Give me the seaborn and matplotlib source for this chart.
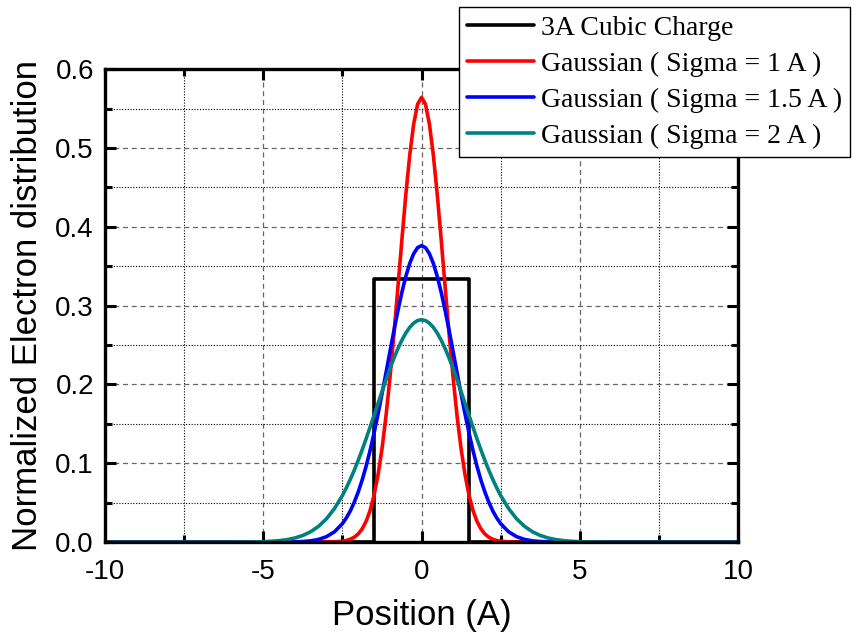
import matplotlib
matplotlib.use("Agg")
import matplotlib.pyplot as plt
import seaborn as sns
from matplotlib.ticker import MultipleLocator, FormatStrFormatter

# ---- data ----
half_x = [0, 0.125, 0.25, 0.375, 0.5, 0.625, 0.75, 0.875, 1.0, 1.125, 1.25, 1.375,
          1.5, 1.625, 1.75, 1.875, 2.0, 2.125, 2.25, 2.375, 2.5, 2.75, 3.0,
          3.25, 3.5, 3.75, 4.0, 4.25, 4.5, 4.75, 5.0, 5.25, 5.5, 5.75, 6.0, 10.0]
half_s1 = [0.5642, 0.5554, 0.5300, 0.4902, 0.4394, 0.3817, 0.3215, 0.2624, 0.2076,
           0.1591, 0.1183, 0.0852, 0.0595, 0.0402, 0.0264, 0.0168, 0.0103, 0.0062,
           0.0036, 0.0020, 0.0011, 0.0003, 0.0001, 0, 0, 0, 0, 0, 0, 0, 0, 0, 0, 0, 0, 0]
half_s15 = [0.3761, 0.3735, 0.3658, 0.3533, 0.3366, 0.3162, 0.2929, 0.2677, 0.2412,
            0.2143, 0.1878, 0.1623, 0.1384, 0.1163, 0.0964, 0.0788, 0.0636, 0.0506,
            0.0396, 0.0307, 0.0234, 0.0131, 0.0069, 0.0034, 0.0016, 0.0007, 0.0003,
            0.0001, 0, 0, 0, 0, 0, 0, 0, 0]
half_s2 = [0.2821, 0.2810, 0.2777, 0.2723, 0.2650, 0.2558, 0.2451, 0.2329, 0.2197,
           0.2056, 0.1909, 0.1758, 0.1607, 0.1458, 0.1312, 0.1171, 0.1038, 0.0912,
           0.0796, 0.0689, 0.0591, 0.0426, 0.0297, 0.0201, 0.0132, 0.0084, 0.0052,
           0.0031, 0.0018, 0.0010, 0.0005, 0.0003, 0.0001, 0.0001, 0.0, 0.0]

cubic_x = [-10, -1.5, -1.5, 1.5, 1.5, 10]
cubic_y = [0, 0, 0.3333, 0.3333, 0, 0]

labels = ["3A Cubic Charge", "Gaussian ( Sigma = 1 A )",
          "Gaussian ( Sigma = 1.5 A )", "Gaussian ( Sigma = 2 A )"]
colors = ["#000000", "#FF0000", "#0000FF", "#008080"]

def mirror_x(h):
    return [-v for v in h[::-1]] + h[1:]

def mirror_y(h):
    return h[::-1] + h[1:]

x_full = mirror_x(half_x)
series = [(cubic_x, cubic_y),
          (x_full, mirror_y(half_s1)),
          (x_full, mirror_y(half_s15)),
          (x_full, mirror_y(half_s2))]

# ---- plot ----
sns.set_style("white")
plt.rcParams["font.family"] = ["Liberation Sans", "DejaVu Sans"]
plt.rcParams["axes.unicode_minus"] = False
plt.rcParams["text.color"] = "black"
plt.rcParams["axes.labelcolor"] = "black"
plt.rcParams["xtick.color"] = "black"
plt.rcParams["ytick.color"] = "black"

fig = plt.figure(figsize=(8.56, 6.4), dpi=100)
ax = fig.add_axes([0.1227, 0.153, 0.7395, 0.739])

for (xs, ys), lab, col in zip(series, labels, colors):
    sns.lineplot(x=xs, y=ys, ax=ax, color=col, lw=2.6, label=lab,
                 estimator=None, sort=False)

ax.set_xlim(-10, 10)
ax.set_ylim(0, 0.6)
ax.xaxis.set_major_locator(MultipleLocator(5))
ax.xaxis.set_minor_locator(MultipleLocator(2.5))
ax.yaxis.set_major_locator(MultipleLocator(0.1))
ax.yaxis.set_minor_locator(MultipleLocator(0.05))
ax.yaxis.set_major_formatter(FormatStrFormatter("%.1f"))

ax.grid(which="major", color="#666666", linestyle=(0, (4, 3)), linewidth=0.9)
ax.grid(which="minor", color="#000000", linestyle=(0, (1, 1.5)), linewidth=0.8)
ax.set_axisbelow(True)

for s in ax.spines.values():
    s.set_linewidth(2.4)
    s.set_color("black")

ax.tick_params(which="both", direction="in", top=True, right=True,
               bottom=True, left=True, width=2.2, colors="black",
               labelcolor="black")
ax.tick_params(which="major", length=8, labelsize=20)
ax.tick_params(which="minor", length=5)
ax.tick_params(axis="x", which="major", pad=12)
ax.tick_params(axis="y", which="major", pad=8)

ax.set_xlabel("Position (A)", fontsize=25, labelpad=10, color="black")
ax.set_ylabel("Normalized Electron distribution", fontsize=25, labelpad=8,
              color="black")

leg = ax.legend(loc="upper left", bbox_to_anchor=(0.536, 0.989),
                bbox_transform=fig.transFigure,
                prop={"family": "Liberation Serif", "size": 20},
                frameon=True, fancybox=False, edgecolor="black", framealpha=1,
                handlelength=2.4, handletextpad=0.25, labelspacing=0.38,
                borderpad=0.3, borderaxespad=0)
leg.get_frame().set_linewidth(1.0)
for h in leg.get_lines():
    h.set_linewidth(2.6)
for t in leg.get_texts():
    t.set_color("black")

fig.savefig("out.png", dpi=100)
